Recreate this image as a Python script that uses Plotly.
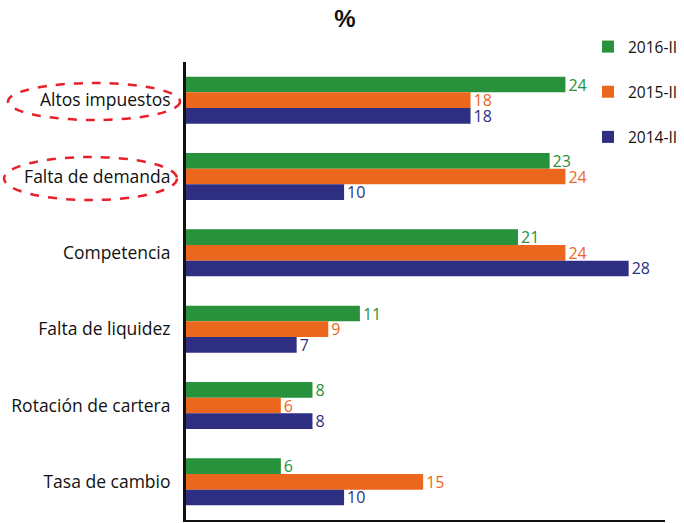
import plotly.graph_objects as go

categories = ['Altos impuestos', 'Falta de demanda', 'Competencia',
              'Falta de liquidez', 'Rotación de cartera', 'Tasa de cambio']
series_names = ['2016-II', '2015-II', '2014-II']
v_2016 = [24, 23, 21, 11, 8, 6]
v_2015 = [18, 24, 24, 9, 6, 15]
v_2014 = [18, 10, 28, 7, 8, 10]
colors = ['#27913b', '#ec671e', '#2e2f83']

# plot area in pixels
L, R, T, B = 186, 665, 62, 520
W, H = 684, 523


def px(x):
    return (x - L) / (R - L)


def py(y):
    return 1 - (y - T) / (B - T)


fig = go.Figure()
for name, vals, col in zip(series_names, [v_2016, v_2015, v_2014], colors):
    fig.add_trace(go.Bar(
        y=categories, x=vals, name=name, orientation='h',
        marker=dict(color=col, line=dict(width=0)),
        text=[str(v) for v in vals], textposition='outside',
        constraintext='none',
        textfont=dict(color=col, size=16, family='Open Sans'),
        cliponaxis=False, legendgroup=name,
    ))

# red dashed ellipses around first two labels
for x0, y0, x1, y1 in [(8, 83, 180, 120), (4, 157, 177, 200)]:
    fig.add_shape(type='circle', xref='paper', yref='paper',
                  x0=px(x0), x1=px(x1), y0=py(y1), y1=py(y0),
                  line=dict(color='#e8202a', width=2.5, dash='dash'))

fig.update_layout(
    width=W, height=H,
    margin=dict(l=L, r=W - R, t=T, b=H - B, autoexpand=False),
    paper_bgcolor='white', plot_bgcolor='white',
    barmode='group', bargap=0.385, bargroupgap=0,
    font=dict(family='Open Sans', size=15, color='#111'),
    title=dict(text='<b>%</b>', x=345 / W, xanchor='center', xref='container',
               y=1 - 19 / H, yanchor='middle',
               font=dict(size=24, family='Liberation Sans', color='#111')),
    legend=dict(x=px(588), y=py(30), xanchor='left', yanchor='top',
                traceorder='grouped', tracegroupgap=22,
                font=dict(size=15.5), bgcolor='rgba(0,0,0,0)',
                itemwidth=30),
)
fig.update_xaxes(range=[0, 30.3], showgrid=False, showticklabels=False,
                 zeroline=False, showline=True, linecolor='#111', linewidth=2,
                 ticks='', automargin=False)
fig.update_yaxes(autorange='reversed', showgrid=False, showline=True,
                 linecolor='#111', linewidth=3, ticks='', automargin=False,
                 ticklabelstandoff=9, tickfont=dict(size=17.5))

fig.write_html('out.html', config={'displayModeBar': False},
               post_script="document.body.style.margin='0';")
